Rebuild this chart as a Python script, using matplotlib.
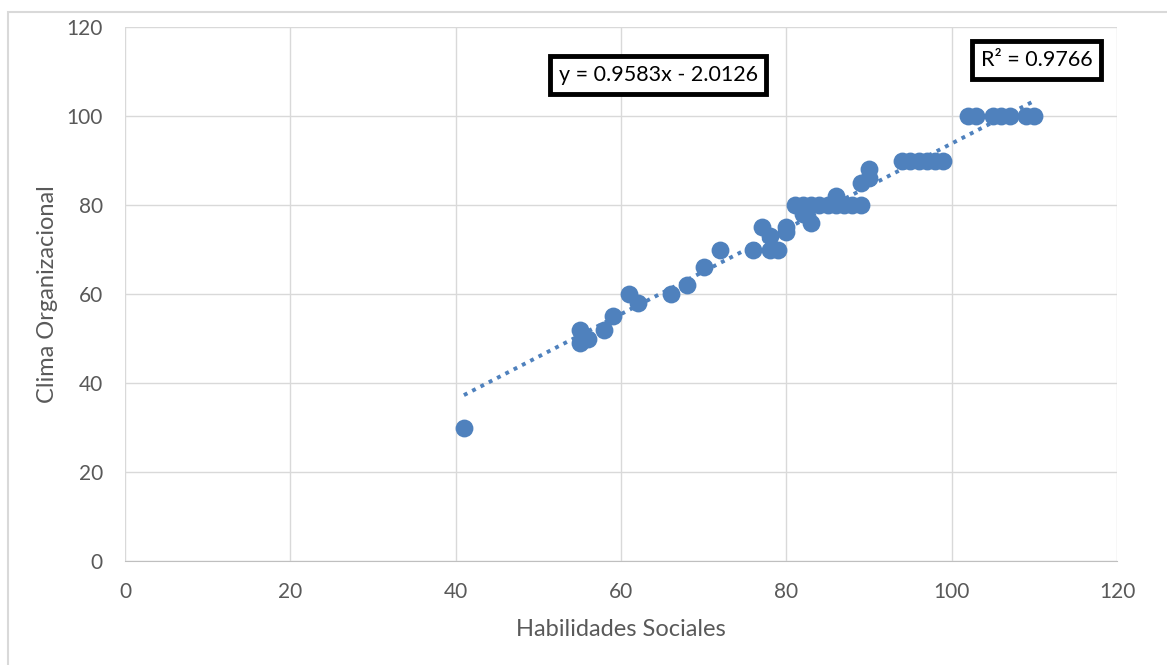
#!/usr/bin/env python3
"""Scatter of Habilidades Sociales vs Clima Organizacional with linear trendline."""

import matplotlib
matplotlib.use("Agg")
import matplotlib.pyplot as plt
import numpy as np
from matplotlib.patches import Rectangle

# values
habilidades = [
    41, 55, 55, 56, 58, 59, 61, 62, 66, 68, 70, 72,
    76, 77, 78, 78, 79, 80, 80,
    81, 82, 83, 84, 85, 86, 87, 88, 89, 82, 83, 86, 89, 90, 90,
    94, 95, 96, 97, 98, 99,
    102, 103, 105, 106, 107, 109, 110,
]
clima = [
    30, 52, 49, 50, 52, 55, 60, 58, 60, 62, 66, 70,
    70, 75, 73, 70, 70, 75, 74,
    80, 80, 80, 80, 80, 80, 80, 80, 80, 78, 76, 82, 85, 88, 86,
    90, 90, 90, 90, 90, 90,
    100, 100, 100, 100, 100, 100, 100,
]
slope = 0.9583
intercept = -2.0126
r2 = 0.9766

BLUE = "#4f81bd"
TEXT = "#595959"
GRID = "#d9d9d9"

plt.rcParams["font.family"] = ["Lato", "DejaVu Sans"]

fig = plt.figure(figsize=(11.67, 6.65), dpi=100)
ax = fig.add_axes([125 / 1167, 1 - 561 / 665, 992 / 1167, 534 / 665])

x = np.array(habilidades)
y = np.array(clima)
ax.scatter(x, y, s=165, color=BLUE, zorder=3, linewidths=0)

xl = np.array([min(habilidades), max(habilidades)])
ax.plot(xl, slope * xl + intercept, color=BLUE, linestyle=(0, (1, 1.4)),
        linewidth=2.8, zorder=4)

ax.set_xlim(0, 120)
ax.set_ylim(0, 120)
ax.set_xticks(range(0, 121, 20))
ax.set_yticks(range(0, 121, 20))
ax.grid(True, color=GRID, linewidth=1)
ax.set_axisbelow(True)
for side in ("top", "right", "left"):
    ax.spines[side].set_visible(False)
ax.spines["bottom"].set_color("#bfbfbf")
ax.tick_params(length=0, labelsize=15, labelcolor=TEXT)
ax.tick_params(axis="y", pad=16)
ax.tick_params(axis="x", pad=15)

ax.set_xlabel("Habilidades Sociales", fontsize=17, color=TEXT, labelpad=12)
ax.set_ylabel("Clima Organizacional", fontsize=17, color=TEXT, labelpad=6)

box = dict(boxstyle="square,pad=0.4", facecolor="white", edgecolor="black", linewidth=3.5)
ax.text(64.5, 109.2, f"y = {slope}x - {abs(intercept)}", fontsize=15.5,
        ha="center", va="center", bbox=box, zorder=5)
ax.text(110.3, 112.6, f"R² = {r2}", fontsize=15.5,
        ha="center", va="center", bbox=box, zorder=5)

fig.patches.append(Rectangle((8 / 1167, -0.1), 1.2, 1 - 12 / 665 + 0.1,
                             transform=fig.transFigure, fill=False,
                             edgecolor="#d9d9d9", linewidth=1.5))

fig.savefig("out.png", dpi=100)
